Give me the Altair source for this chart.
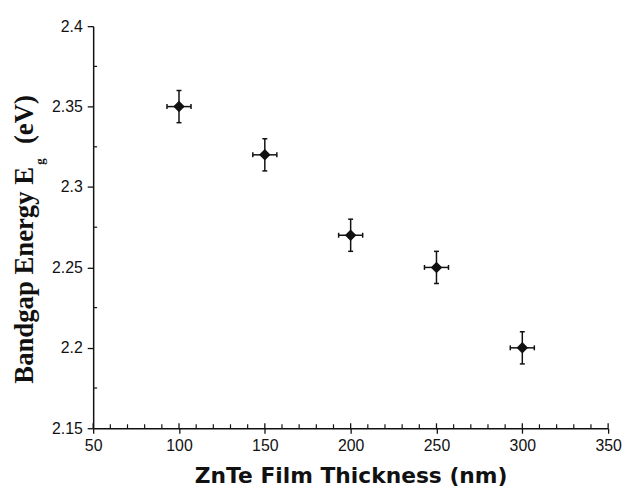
import altair as alt
import pandas as pd

# data
thickness = [100, 150, 200, 250, 300]
bandgap = [2.35, 2.32, 2.27, 2.25, 2.20]
x_err = [7, 7, 7, 7, 7]
y_err = [0.01, 0.01, 0.01, 0.01, 0.01]

x_major = [50, 100, 150, 200, 250, 300, 350]
x_minor = [v for v in range(60, 350, 10) if v % 50 != 0]
y_major = [2.15, 2.2, 2.25, 2.3, 2.35, 2.4]
y_minor = [2.175, 2.225, 2.275, 2.325, 2.375]

x_title = "ZnTe Film Thickness (nm)"
y_title_main = "Bandgap Energy E"
y_title_sub = "g"
y_title_unit = "(eV)"

df = pd.DataFrame({"t": thickness, "e": bandgap, "xe": x_err, "ye": y_err})
df["xlo"] = df["t"] - df["xe"]
df["xhi"] = df["t"] + df["xe"]
df["ylo"] = df["e"] - df["ye"]
df["yhi"] = df["e"] + df["ye"]

W, H = 520, 406
INK = "#111111"

xs = alt.Scale(domain=[50, 350], nice=False, zero=False)
ys = alt.Scale(domain=[2.15, 2.4], nice=False, zero=False)

x_axis = alt.Axis(
    values=x_major, title=x_title, grid=False, tickSize=5, tickWidth=1.3,
    tickColor=INK, domainColor=INK, domainWidth=1.5, labelFont="Liberation Sans",
    labelFontSize=16, labelColor=INK, labelPadding=4, titleFont="DejaVu Sans",
    titleFontSize=22, titleFontWeight="bold", titleColor=INK, titleY=55,
    titleBaseline="alphabetic", labelFlush=False,
)
y_axis = alt.Axis(
    values=y_major, title=None, grid=False, tickSize=6, tickWidth=1.3,
    tickColor=INK, domainColor=INK, domainWidth=1.5, labelFont="Liberation Sans",
    labelFontSize=16, labelColor=INK, labelPadding=5, labelFlush=False,
    labelExpr="'' + datum.value",
)

base = alt.Chart(df)

points = base.mark_point(shape="diamond", filled=True, size=135, color=INK, opacity=1).encode(
    x=alt.X("t:Q", scale=xs, axis=x_axis),
    y=alt.Y("e:Q", scale=ys, axis=y_axis),
)

xbar = base.mark_rule(color=INK, strokeWidth=1.5).encode(
    x="xlo:Q", x2="xhi:Q", y="e:Q")
ybar = base.mark_rule(color=INK, strokeWidth=1.5).encode(
    y="ylo:Q", y2="yhi:Q", x="t:Q")
xcap_lo = base.mark_tick(orient="vertical", size=5, thickness=1.5, color=INK, opacity=1).encode(
    x="xlo:Q", y="e:Q")
xcap_hi = base.mark_tick(orient="vertical", size=5, thickness=1.5, color=INK, opacity=1).encode(
    x="xhi:Q", y="e:Q")
ycap_lo = base.mark_tick(orient="horizontal", size=5, thickness=1.5, color=INK, opacity=1).encode(
    y="ylo:Q", x="t:Q")
ycap_hi = base.mark_tick(orient="horizontal", size=5, thickness=1.5, color=INK, opacity=1).encode(
    y="yhi:Q", x="t:Q")

xminor = alt.Chart(pd.DataFrame({"v": x_minor})).mark_rule(color=INK, strokeWidth=1.2).encode(
    x=alt.X("v:Q", scale=xs), y=alt.value(H), y2=alt.value(H - 4))
yminor = alt.Chart(pd.DataFrame({"v": y_minor})).mark_rule(color=INK, strokeWidth=1.2).encode(
    y=alt.Y("v:Q", scale=ys), x=alt.value(0), x2=alt.value(4))
xmajor_in = alt.Chart(pd.DataFrame({"v": x_major})).mark_rule(color=INK, strokeWidth=1.3).encode(
    x=alt.X("v:Q", scale=xs), y=alt.value(H), y2=alt.value(H - 5))

one = alt.Data(values=[{}])
t_main = alt.Chart(one).mark_text(
    angle=270, align="left", baseline="alphabetic", font="Liberation Serif",
    fontWeight="bold", fontSize=27, color=INK,
).encode(text=alt.value(y_title_main), x=alt.value(-61), y=alt.value(361))
t_sub = alt.Chart(one).mark_text(
    angle=270, align="left", baseline="alphabetic", font="Liberation Serif",
    fontWeight="bold", fontSize=13, color=INK,
).encode(text=alt.value(y_title_sub), x=alt.value(-50), y=alt.value(140))
t_unit = alt.Chart(one).mark_text(
    angle=270, align="left", baseline="alphabetic", font="Liberation Serif",
    fontWeight="bold", fontSize=27, color=INK,
).encode(text=alt.value(y_title_unit), x=alt.value(-61), y=alt.value(119))

chart = alt.layer(
    xminor, yminor, xmajor_in, xbar, ybar, xcap_lo, xcap_hi, ycap_lo, ycap_hi,
    points, t_main, t_sub, t_unit,
).properties(
    width=W, height=H,
    autosize=alt.AutoSizeParams(type="none"),
    padding={"left": 86, "top": 16, "right": 14, "bottom": 60},
    background="white",
).configure_view(stroke=None)

chart.save("out.html", embed_options={"renderer": "svg", "actions": False})
